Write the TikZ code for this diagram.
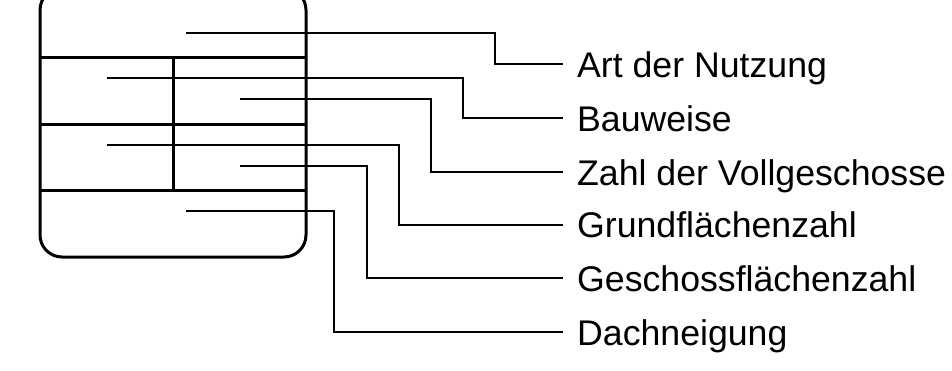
\documentclass[tikz,border=0pt]{standalone}
\usepackage{fontspec}
\setmainfont{Liberation Sans}
\begin{document}
\begin{tikzpicture}[x=1bp,y=-1bp,
  frame/.style={line width=3bp},
  leader/.style={line width=2bp},
  label/.style={anchor=west,inner xsep=14bp,inner ysep=0pt,text height=26bp,text depth=0pt,
    font=\fontsize{35.8}{40}\selectfont}]
\useasboundingbox (0,0) rectangle (952,370);
% plan symbol box
\draw[frame,rounded corners=22bp] (40,-12) rectangle (306,257);
\draw[frame] (40,57) -- (306,57);
\draw[frame] (40,124) -- (306,124);
\draw[frame] (40,190) -- (306,190);
\draw[frame] (173,57) -- (173,190);
% start points of the leaders inside the fields
\coordinate (s1) at (186,32.5);
\coordinate (s2) at (107,78);
\coordinate (s3) at (240,99);
\coordinate (s4) at (107,145);
\coordinate (s5) at (240,166);
\coordinate (s6) at (186,211);
% x positions of the vertical runs
\coordinate (k1) at (495,0);
\coordinate (k2) at (463,0);
\coordinate (k3) at (431,0);
\coordinate (k4) at (399,0);
\coordinate (k5) at (367,0);
\coordinate (k6) at (334,0);
% labels
\node[label] (l1) at (563,64) {Art der Nutzung};
\node[label] (l2) at (563,118) {Bauweise};
\node[label] (l3) at (563,172) {Zahl der Vollgeschosse};
\node[label] (l4) at (563,224.5) {Grundflächenzahl};
\node[label] (l5) at (563,278) {Geschossflächenzahl};
\node[label] (l6) at (563,332) {Dachneigung};
% leaders
\foreach \i in {1,...,6}
  \draw[leader] (s\i) -- (s\i -| k\i) -- (k\i |- l\i.west) -- (l\i.west);
\end{tikzpicture}
\end{document}
